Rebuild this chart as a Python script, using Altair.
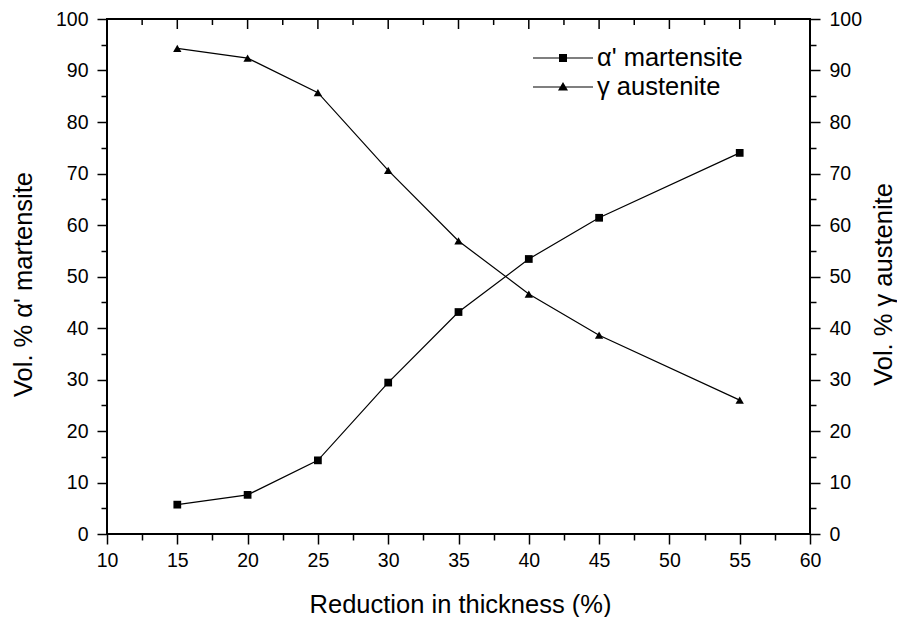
import altair as alt
import pandas as pd

# ---- data ----
reduction = [15, 20, 25, 30, 35, 40, 45, 55]
martensite = [5.7, 7.6, 14.3, 29.4, 43.1, 53.4, 61.4, 74.0]
austenite = [94.3, 92.4, 85.7, 70.6, 56.9, 46.6, 38.6, 26.0]
series_names = ["α' martensite", "γ  austenite"]
x_ticks = [10, 12.5, 15, 17.5, 20, 22.5, 25, 27.5, 30, 32.5, 35, 37.5, 40,
           42.5, 45, 47.5, 50, 52.5, 55, 57.5, 60]
y_ticks = [0, 5, 10, 15, 20, 25, 30, 35, 40, 45, 50, 55, 60, 65, 70, 75,
           80, 85, 90, 95, 100]

df = pd.DataFrame({"reduction": reduction,
                   "martensite": martensite,
                   "austenite": austenite})
ticks_df = pd.DataFrame({"reduction": x_ticks})

FONT = "Liberation Sans"
W, H = 703, 515
PAD = {"left": 107, "top": 19, "right": 87, "bottom": 83}

x_major = "datum.value % 5 === 0"
y_major = "datum.value % 10 === 0"

common_axis = dict(domain=False, grid=False, labelFont=FONT, labelFontSize=19.5,
                   labelColor="black", labelOverlap=False, labelFlush=False,
                   tickColor="black", tickWidth=1.5, titleFont=FONT,
                   titleFontSize=25.5, titleFontWeight="normal",
                   titleColor="black")

x_scale = alt.Scale(domain=[10, 60], nice=False, zero=False)
y_scale = alt.Scale(domain=[0, 100], nice=False)

x_bottom = alt.Axis(
    orient="bottom", values=x_ticks,
    labelExpr=f"{x_major} ? datum.label : ''",
    tickSize={"condition": {"test": x_major, "value": 10}, "value": 6},
    labelPadding=7,
    title="Reduction in thickness (%)",
    titleX=353, titleY=70, titleAlign="center", titleBaseline="middle",
    **common_axis)

y_left = alt.Axis(
    orient="left", values=y_ticks,
    labelExpr=f"{y_major} ? datum.label : ''",
    tickSize={"condition": {"test": y_major, "value": 10}, "value": 6},
    labelPadding=9,
    title="Vol. % α' martensite",
    titleAngle=270, titleX=-84, titleY=265, titleAlign="center",
    titleBaseline="middle",
    **common_axis)

y_right = alt.Axis(
    orient="right", values=y_ticks,
    labelExpr=f"{y_major} ? datum.label : ''",
    tickSize={"condition": {"test": y_major, "value": 10}, "value": 6},
    labelPadding=9,
    title="Vol. % γ austenite",
    titleAngle=270, titleX=73, titleY=265, titleAlign="center",
    titleBaseline="middle",
    **common_axis)

base = alt.Chart(df)
xb = alt.X("reduction:Q", scale=x_scale, axis=x_bottom)
xt = alt.X("reduction:Q", scale=x_scale, axis=None)
ym = alt.Y("martensite:Q", scale=y_scale, axis=y_left)
ya = alt.Y("austenite:Q", scale=y_scale, axis=y_right)

mart_line = base.mark_line(color="black", strokeWidth=1.2).encode(x=xb, y=ym)
mart_pts = base.mark_point(shape="square", filled=True, color="black",
                           size=60, opacity=1).encode(x=xb, y=ym)

aust_line = base.mark_line(color="black", strokeWidth=1.2).encode(x=xt, y=ya)
aust_pts = base.mark_point(shape="triangle-up", filled=True, color="black",
                           size=70, opacity=1).encode(x=xt, y=ya)

# inward ticks on the top frame edge (positions from the shared x scale)
tick_chart = alt.Chart(ticks_df)
top_major = tick_chart.transform_filter("datum.reduction % 5 === 0").mark_tick(
    color="black", thickness=1.5, orient="vertical", opacity=1
).encode(x=xb, y=alt.value(5), size=alt.value(10))
top_minor = tick_chart.transform_filter("datum.reduction % 5 !== 0").mark_tick(
    color="black", thickness=1.5, orient="vertical", opacity=1
).encode(x=xb, y=alt.value(3), size=alt.value(6))

# legend symbols: a thin filled bar (the line) with the marker in its centre
sym_square = "M-1,-0.02H1V0.02H-1ZM-0.133,-0.133H0.133V0.133H-0.133Z"
sym_triangle = "M-1,-0.014H1V0.014H-1ZM0,-0.17L0.167,0.12L-0.167,0.12Z"

legend_layer = base.transform_filter("false").mark_point(
    filled=True, color="black", opacity=1
).encode(
    x=xt, y=ya,
    shape=alt.Shape(
        "series:N",
        scale=alt.Scale(domain=series_names, range=[sym_square, sym_triangle]),
        legend=alt.Legend(
            orient="none", legendX=426, legendY=24.5, title=None,
            symbolSize=3600, symbolFillColor="black", symbolOpacity=1,
            symbolStrokeWidth=0, clipHeight=29,
            labelFont=FONT, labelFontSize=25.5, labelColor="black",
            labelOffset=4, rowPadding=0, padding=0,
        ),
    ),
)

group1 = alt.layer(mart_line, mart_pts, top_major, top_minor)
group2 = alt.layer(aust_line, aust_pts, legend_layer)

chart = (
    alt.layer(group1, group2)
    .resolve_scale(y="independent")
    .resolve_axis(x="independent", y="independent")
    .properties(width=W, height=H, autosize="none", padding=PAD)
    .configure(background="white", font=FONT)
    .configure_view(stroke="black", strokeWidth=2)
)

chart.save("out.html", embed_options={"renderer": "svg", "actions": False})
